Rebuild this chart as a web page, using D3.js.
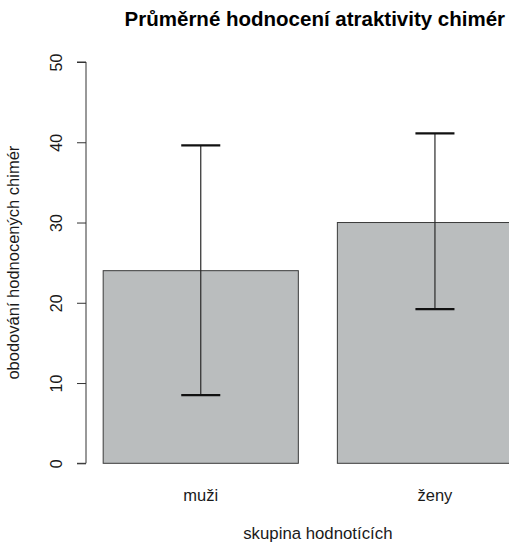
<!DOCTYPE html>
<html>
<head>
<meta charset="utf-8">
<script src="https://cdn.jsdelivr.net/npm/d3@7"></script>
<style>
  body { margin: 0; background: #fff; }
  text { font-family: "Liberation Sans", Arial, sans-serif; fill: #1a1a1a; }
</style>
</head>
<body>
<div class="chart"></div>
<script>
const categories = ['muži', 'ženy'];
const means = [24, 30];
const lower = [8.5, 19.2];
const upper = [39.6, 41.1];
const yTicks = [0, 10, 20, 30, 40, 50];

const width = 509, height = 544;

// R barplot geometry: width 1, space 0.2, xlim extended by 4%
const barW = 1, space = 0.2;
const lefts = categories.map((c, i) => space + i * (barW + space));
const xmin = lefts[0], xmax = lefts[lefts.length - 1] + barW;
const ext = (xmax - xmin) * 0.04;

const x = d3.scaleLinear()
  .domain([xmin - ext, xmax + ext])
  .range([86, 549.7]);

const y = d3.scaleLinear()
  .domain([0, 50])
  .range([463.3, 62]);

const svg = d3.select('.chart')
  .append('svg')
  .attr('width', width)
  .attr('height', height);

// bars
svg.selectAll('rect.bar')
  .data(categories)
  .enter()
  .append('rect')
  .attr('class', 'bar')
  .attr('x', (d, i) => x(lefts[i]))
  .attr('y', (d, i) => y(means[i]))
  .attr('width', (d, i) => x(lefts[i] + barW) - x(lefts[i]))
  .attr('height', (d, i) => y(0) - y(means[i]))
  .style('fill', '#babdbe')
  .style('stroke', '#3a3a3a')
  .style('stroke-width', 1);

// error bars
const capHalf = 0.1;
const err = svg.selectAll('g.err')
  .data(categories)
  .enter()
  .append('g')
  .attr('class', 'err');

err.append('line')
  .attr('x1', (d, i) => x(lefts[i] + barW / 2))
  .attr('x2', (d, i) => x(lefts[i] + barW / 2))
  .attr('y1', (d, i) => y(lower[i]))
  .attr('y2', (d, i) => y(upper[i]))
  .style('stroke', '#2a2a2a')
  .style('stroke-width', 1.2);

[lower, upper].forEach(vals => {
  err.append('line')
    .attr('x1', (d, i) => x(lefts[i] + barW / 2 - capHalf))
    .attr('x2', (d, i) => x(lefts[i] + barW / 2 + capHalf))
    .attr('y1', (d, i) => y(vals[i]))
    .attr('y2', (d, i) => y(vals[i]))
    .style('stroke', '#111')
    .style('stroke-width', 2.2);
});

// y axis
const yAxis = svg.append('g')
  .attr('transform', 'translate(86,0)')
  .call(d3.axisLeft(y).tickValues(yTicks).tickSize(9).tickFormat(d3.format('d')));
yAxis.select('.domain').attr('d', `M-9,${y(0)}H0V${y(50)}H-9`).style('stroke', '#333');
yAxis.selectAll('.tick line').style('stroke', '#333');
yAxis.selectAll('.tick text')
  .attr('x', null).attr('dy', null)
  .attr('transform', 'translate(-24,0) rotate(-90)')
  .attr('text-anchor', 'middle')
  .style('font-size', '16px')
  .style('font-family', '"Liberation Sans", Arial, sans-serif')
  .style('fill', '#1a1a1a');

// x category labels
svg.selectAll('text.cat')
  .data(categories)
  .enter()
  .append('text')
  .attr('class', 'cat')
  .attr('x', (d, i) => x(lefts[i] + barW / 2))
  .attr('y', 501)
  .attr('text-anchor', 'middle')
  .style('font-size', '16.5px')
  .text(d => d);

const cx = (x.range()[0] + x.range()[1]) / 2;

// title
svg.append('text')
  .attr('x', cx - 3)
  .attr('y', 26)
  .attr('text-anchor', 'middle')
  .style('font-size', '20.5px')
  .style('font-weight', 'bold')
  .style('fill', '#000')
  .text('Průměrné hodnocení atraktivity chimér');

// axis titles
svg.append('text')
  .attr('x', cx)
  .attr('y', 539)
  .attr('text-anchor', 'middle')
  .style('font-size', '16.8px')
  .text('skupina hodnotících');

svg.append('text')
  .attr('transform', `translate(19,${(y(0) + y(50)) / 2}) rotate(-90)`)
  .attr('text-anchor', 'middle')
  .style('font-size', '16.5px')
  .text('obodování hodnocených chimér');
</script>
</body>
</html>
